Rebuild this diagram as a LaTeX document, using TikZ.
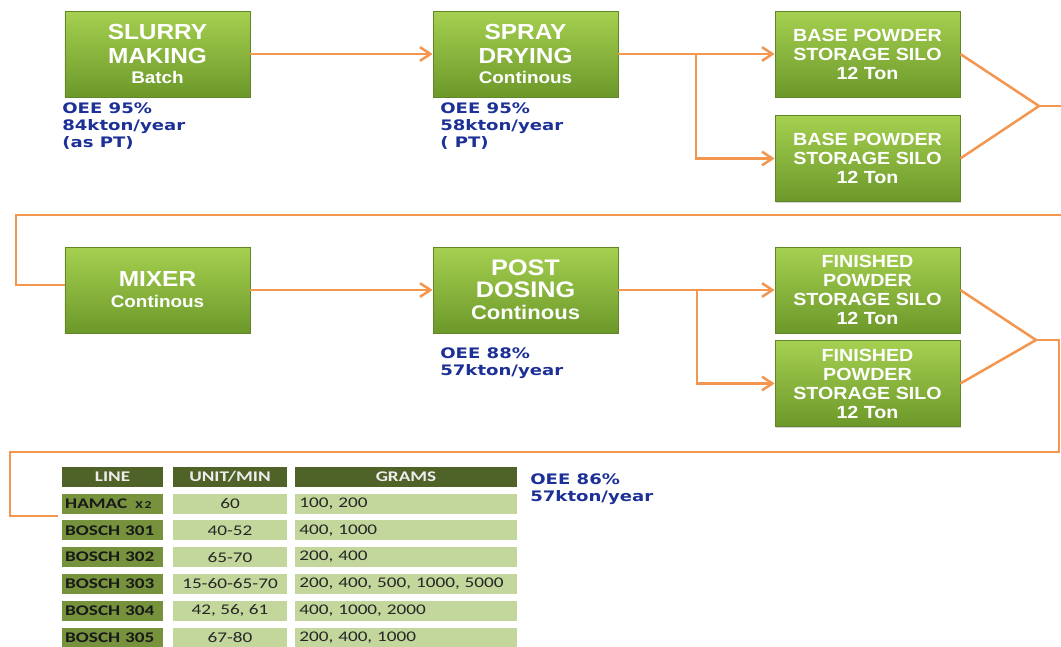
\documentclass[tikz,border=0pt]{standalone}
\usepackage{fontspec}
\usepackage{tikz}
\usetikzlibrary{arrows.meta,positioning,calc,shadows}
\newfontfamily\boxfont[FakeStretch=1.12]{Liberation Sans}
\newfontfamily\infofont[FakeStretch=1.25]{DejaVu Sans}
\newfontfamily\tabfont[FakeStretch=1.3]{Carlito}
\definecolor{linkc}{RGB}{242,150,80}
\definecolor{gtop}{RGB}{165,208,80}
\definecolor{gbot}{RGB}{108,152,42}
\definecolor{gedge}{RGB}{96,134,40}
\definecolor{navy}{RGB}{28,48,150}
\definecolor{olivedk}{RGB}{79,98,40}
\definecolor{olivemd}{RGB}{118,146,60}
\definecolor{olivelt}{RGB}{195,214,155}
\newcommand{\subtxt}[1]{{\fontsize{12}{12}\selectfont #1}}
\tikzset{
  proc/.style={draw=gedge,top color=gtop,bottom color=gbot,
    minimum width=46.25mm,minimum height=21.5mm,inner sep=0pt,
    align=center,text=white,
    font=\boxfont\bfseries\fontsize{15.5}{17}\selectfont,
    drop shadow={opacity=0.35,shadow xshift=0.9pt,shadow yshift=-0.9pt}},
  silo/.style={proc,font=\boxfont\bfseries\fontsize{12.5}{13.5}\selectfont},
  info/.style={anchor=north west,inner sep=0pt,align=left,text=navy,
    font=\infofont\bfseries\fontsize{10.3}{12.4}\selectfont},
  link/.style={draw=linkc,line width=1.8pt},
  arr/.style={link,-{Straight Barb[length=2.6mm,width=3.4mm]}},
  thead/.style={fill=olivedk,text=black!7,minimum height=5mm,inner sep=0pt,
    font=\tabfont\bfseries\fontsize{10.5}{11}\selectfont},
  tline/.style={fill=olivemd,text=black!90,minimum height=5mm,inner ysep=0pt,
    inner xsep=0.8mm,text width=23.65mm,align=left,
    font=\tabfont\bfseries\fontsize{10.5}{11}\selectfont},
  tunit/.style={fill=olivelt,text=black!85,minimum height=5mm,inner sep=0pt,
    minimum width=28.5mm,font=\tabfont\fontsize{10.5}{11}\selectfont},
  tgram/.style={tunit,inner xsep=1.1mm,text width=53.3mm,align=left,
    minimum width=0pt},
}
\begin{document}
\begin{tikzpicture}[x=0.25mm,y=-0.25mm]
  \useasboundingbox (0,0) rectangle (1061,646);
  \clip (0,0) rectangle (1061,646);

  % first row
  \node[proc] (slurry) at (157.5,54) {SLURRY\\MAKING\\[-3pt]\subtxt{Batch}};
  \node[proc] (spray) at (525.5,54) {SPRAY\\DRYING\\[-3pt]\subtxt{Continous}};
  \node[silo] (base1) at (867.5,54) {BASE POWDER\\STORAGE SILO\\12 Ton};
  \node[silo] (base2) at (867.5,158.5) {BASE POWDER\\STORAGE SILO\\12 Ton};
  \node[info] (slurryinfo) at (62,102) {OEE 95\%\\84kton/year\\(as PT)};
  \node[info] (sprayinfo) at (440,102) {OEE 95\%\\58kton/year\\( PT)};

  % second row
  \node[proc] (mixer) at (157.5,290) {MIXER\\[-2pt]\subtxt{Continous}};
  \node[proc,font=\boxfont\bfseries\fontsize{16}{15.6}\selectfont] (post)
    at (525.5,290) {POST\\DOSING\\{\fontsize{14}{14}\selectfont Continous}};
  \node[silo] (fin1) at (867.5,290) {FINISHED\\POWDER\\STORAGE SILO\\12 Ton};
  \node[silo] (fin2) at (867.5,383.5) {FINISHED\\POWDER\\STORAGE SILO\\12 Ton};
  \node[info] (postinfo) at (440,347) {OEE 88\%\\57kton/year};

  % packing lines
  \node[thead,minimum width=25.25mm] (hline) at (112.5,476.5) {LINE};
  \node[thead,minimum width=28.5mm] (hunit) at (230,476.5) {UNIT/MIN};
  \node[thead,minimum width=55.5mm] (hgram) at (406,476.5) {GRAMS};
  \foreach \nm/\um/\gr [count=\i from 0] in {
      {HAMAC\hspace{0.55em}{\fontsize{7.5}{8}\selectfont X\,2}}/60/{100, 200},
      {BOSCH 301}/40-52/{400, 1000},
      {BOSCH 302}/65-70/{200, 400},
      {BOSCH 303}/15-60-65-70/{200, 400, 500, 1000, 5000},
      {BOSCH 304}/{42, 56, 61}/{400, 1000, 2000},
      {BOSCH 305}/67-80/{200, 400, 1000}} {
    \node[tline] (ln\i) at (112.5,{503.5+26.8*\i}) {\nm};
    \node[tunit] (un\i) at (230,{503.5+26.8*\i}) {\um};
    \node[tgram] (gr\i) at (406,{503.5+26.8*\i}) {\gr};
  }
  \node[info] (packinfo) at (530,473) {OEE 86\%\\57kton/year};

  % connectors
  \coordinate (sbr) at (696,54);
  \coordinate (bj) at (1039,106);
  \coordinate (pbr) at (697,290);
  \coordinate (fj) at (1036,340);
  \coordinate (tin) at (58,516);
  \draw[arr] (slurry) -- (spray);
  \draw[arr] (spray) -- (base1);
  \draw[arr] (sbr) |- (base2);
  \draw[link] (base1.east) -- (bj);
  \draw[link] (base2.east) -- (bj);
  \draw[link] (bj) -- (1066,106) |- (16,215) |- ([yshift=3.5pt]mixer.west);
  \draw[arr] (mixer) -- (post);
  \draw[arr] (post) -- (fin1);
  \draw[arr] (pbr) |- (fin2);
  \draw[link] (fin1.east) -- (fj);
  \draw[link] (fin2.east) -- (fj);
  \draw[link] (fj) -- (1059,340) |- (10,452) |- (tin);
\end{tikzpicture}
\end{document}
